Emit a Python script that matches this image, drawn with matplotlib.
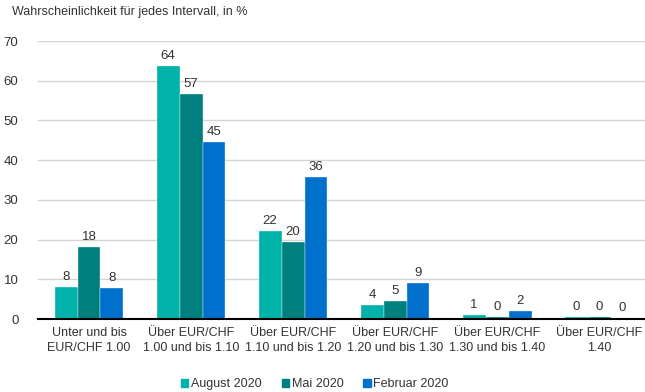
import numpy as np
import matplotlib
matplotlib.use("Agg")
import matplotlib.pyplot as plt

# ── Data ────────────────────────────────────────────────────────────────
categories = [
    "Unter und bis\nEUR/CHF 1.00",
    "Über EUR/CHF\n1.00 und bis 1.10",
    "Über EUR/CHF\n1.10 und bis 1.20",
    "Über EUR/CHF\n1.20 und bis 1.30",
    "Über EUR/CHF\n1.30 und bis 1.40",
    "Über EUR/CHF\n1.40",
]
series_names = ["August 2020", "Mai 2020", "Februar 2020"]
aug = [8.1, 63.8, 22.2, 3.6, 1.1, 0.4]
mai = [18.2, 56.6, 19.4, 4.5, 0.4, 0.4]
feb = [7.9, 44.6, 35.7, 9.1, 2.1, 0.3]
labels_aug = [8, 64, 22, 4, 1, 0]
labels_mai = [18, 57, 20, 5, 0, 0]
labels_feb = [8, 45, 36, 9, 2, 0]
y_ticks = [0, 10, 20, 30, 40, 50, 60, 70]

colors = ["#00b2a9", "#007f7f", "#0070cd"]

plt.rcParams["font.family"] = ["Liberation Sans", "DejaVu Sans"]

fig = plt.figure(figsize=(6.45, 3.92), dpi=100)
ax = fig.add_axes([38 / 645, 1 - 319 / 392, 1 - 38 / 645, (319 - 41) / 392])

x = np.arange(len(categories))
w = 0.225
all_vals = [aug, mai, feb]
all_labels = [labels_aug, labels_mai, labels_feb]
for i, (vals, labs, name, c) in enumerate(zip(all_vals, all_labels, series_names, colors)):
    xs = x + (i - 1) * w
    ax.bar(xs, vals, width=w, color=c, edgecolor="white", linewidth=0.25, label=name, zorder=3)
    for xi, v, lab in zip(xs, vals, labs):
        ax.text(xi, v + 1.0, str(lab), ha="center", va="bottom", fontsize=9.5, color="#333333")

ax.set_xlim(-0.5, 5.45)
ax.set_ylim(0, 70)
ax.set_yticks(y_ticks)
ax.set_xticks(x)
ax.set_xticklabels(categories, fontsize=9, color="#333333", linespacing=1.3)
ax.tick_params(axis="y", labelsize=9.5, labelcolor="#333333", length=0, pad=14)
ax.tick_params(axis="x", length=0, pad=6)
ax.grid(axis="y", color="#d4d4d4", lw=1, zorder=0)
for s in ["top", "right", "left"]:
    ax.spines[s].set_visible(False)
ax.spines["bottom"].set_color("black")
ax.spines["bottom"].set_linewidth(1.5)
ax.spines["bottom"].set_zorder(4)

fig.text(12 / 645, 1 - 12 / 392, "Wahrscheinlichkeit für jedes Intervall, in %",
         fontsize=9, color="#333333", va="center", ha="left")

handles = [plt.Rectangle((0, 0), 1, 1, color=c) for c in colors]
fig.legend(handles, series_names, loc="center", bbox_to_anchor=(0.488, 1 - 384 / 392),
           ncol=3, frameon=False, fontsize=9, handlelength=0.6, handleheight=0.6,
           handletextpad=0.2, columnspacing=1.6, labelcolor="#333333")

fig.savefig("out.png", dpi=100)
